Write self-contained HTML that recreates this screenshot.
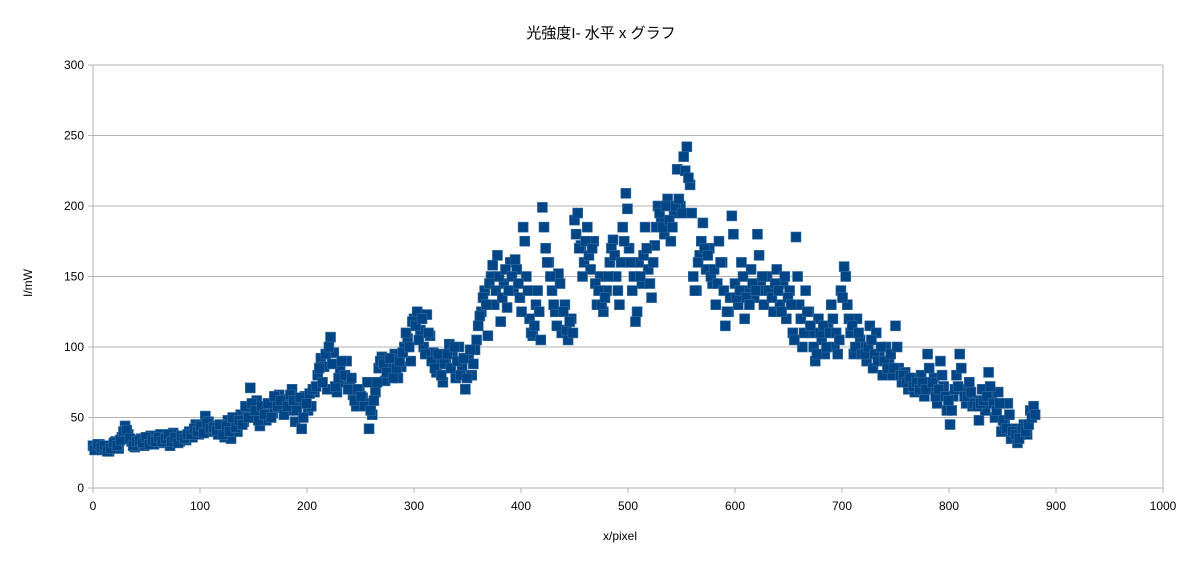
<!DOCTYPE html>
<html><head><meta charset="utf-8"><style>
body{margin:0;background:#fff;}
svg text{font-family:"Liberation Sans","Noto Sans CJK JP",sans-serif;}
</style></head><body>
<svg width="1202" height="561" id="c">
<text x="601" y="38" text-anchor="middle" font-size="15">光強度I- 水平 x グラフ</text>
<text x="620" y="540" text-anchor="middle" font-size="12">x/pixel</text>
<text x="32" y="283" text-anchor="middle" font-size="12" transform="rotate(-90 32 283)">I/mW</text>
<g id="grid"></g>
<g id="pts"></g>
</svg>
<script>
const yTicks=[0,50,100,150,200,250,300];
const xTicks=[0,100,200,300,400,500,600,700,800,900,1000];
const xStep=3;
const yVals=[30,28,31,27,29,26,30,33,28,36,
44,38,33,29,31,35,30,33,37,31,
34,38,32,36,30,39,35,33,37,34,
40,36,45,38,43,51,47,40,44,38,
42,36,48,35,46,40,52,47,55,71,
50,62,44,56,48,59,53,62,66,57,
63,55,70,47,60,42,65,55,58,68,
80,92,86,70,107,96,68,83,75,90,
72,66,58,70,64,60,42,52,68,85,
93,76,88,82,95,78,86,100,106,90,
120,125,112,100,123,108,96,82,90,75,
88,102,95,78,100,85,70,92,80,98,
115,125,140,108,150,130,165,118,145,128,
160,140,155,135,185,150,120,108,130,125,
199,170,160,140,125,152,110,130,105,120,
190,195,172,160,185,155,175,130,150,125,
140,160,176,150,130,185,209,170,140,118,
160,145,185,155,135,172,200,190,180,205,
175,195,226,200,235,242,215,150,140,165,
188,155,170,145,130,175,160,115,125,193,
145,130,160,120,140,155,135,180,145,130,
150,140,125,155,130,145,120,140,110,178,
130,100,140,125,110,90,120,105,95,115,
130,100,95,140,157,130,110,95,120,105,
100,90,115,85,110,95,80,100,90,80,
115,85,75,82,70,78,68,72,80,65,
95,70,78,60,90,72,55,45,65,80,
95,70,60,75,58,62,48,70,55,82,
65,50,68,40,45,60,35,42,32,38,
45,38,55,58];
const yVals2=[27,31,29,30,26,28,32,30,34,40,
41,35,30,33,34,32,36,31,34,33,
36,33,35,38,33,36,32,37,35,38,
38,42,40,44,39,46,42,43,41,45,
38,44,40,50,43,48,45,58,50,60,
55,48,58,52,60,50,65,58,62,52,
58,66,62,55,64,50,60,67,70,72,
85,75,95,100,88,72,78,90,80,70,
78,62,70,65,58,75,55,62,75,90,
88,82,92,78,85,90,96,110,100,118,
115,105,120,95,110,90,85,95,80,88,
95,85,100,90,80,92,78,98,88,105,
122,135,130,145,158,140,150,135,155,140,
150,162,145,125,175,140,110,115,140,105,
185,160,150,130,115,145,125,112,118,110,
180,170,150,175,165,170,145,140,130,135,
150,170,165,140,160,175,198,160,150,125,
150,165,170,145,160,185,195,185,200,190,
185,200,205,195,225,220,195,140,160,175,
170,165,150,155,145,160,140,125,135,180,
135,140,150,135,130,145,140,165,150,140,
140,135,145,140,125,150,135,130,105,150,
120,110,125,115,100,95,110,115,100,110,
120,110,105,135,150,120,115,100,110,95,
95,100,105,95,90,100,90,85,95,85,
100,80,80,75,78,72,75,70,75,70,
85,75,65,70,80,65,62,55,70,72,
85,65,65,68,60,58,60,62,65,72,
60,55,60,48,42,52,40,38,35,42,
40,45,50,52];
const xVals=yVals.map((v,i)=>i*xStep);
const xVals2=yVals2.map((v,i)=>i*xStep+1.5);
const L=93,R=1163,T=65,B=488;
const sx=v=>L+(v/1000)*(R-L), sy=v=>B-(v/300)*(B-T);
const NS='http://www.w3.org/2000/svg';
const g=document.getElementById('grid'), p=document.getElementById('pts');
function mk(t,a,par){const e=document.createElementNS(NS,t);for(const k in a)e.setAttribute(k,a[k]);par.appendChild(e);return e;}
yTicks.forEach(t=>{
 const y=sy(t);
 const l=mk('line',{x1:L-5,x2:R,y1:y,y2:y,stroke:'#b3b3b3','stroke-width':1},g);
 
 
 const tx=mk('text',{x:L-9,y:y+4,'text-anchor':'end','font-size':12},g);
 tx.textContent=t;
 
 
});
xTicks.forEach(t=>{
 const x=sx(t);
 const l=mk('line',{x1:x,x2:x,y1:B,y2:B+5,stroke:'#b3b3b3','stroke-width':1},g);
 
 
 const tx=mk('text',{x:x,y:B+22,'text-anchor':'middle','font-size':12},g);
 tx.textContent=t;
 
 
});
const ax=mk('line',{x1:L,x2:L,y1:T,y2:B,stroke:'#b3b3b3'},g);


const ax2=mk('line',{x1:R,x2:R,y1:T,y2:B,stroke:'#b3b3b3'},g);


function plot(xs,ys){
 ys.forEach((v,i)=>{
  const r=mk('rect',{x:sx(xs[i])-5,y:sy(v)-5,width:10,height:10,fill:'#004586',stroke:'#3a6ea0','stroke-width':0.6},p);
  
  
 });
}
plot(xVals,yVals);
plot(xVals2,yVals2);
</script>
</body></html>
